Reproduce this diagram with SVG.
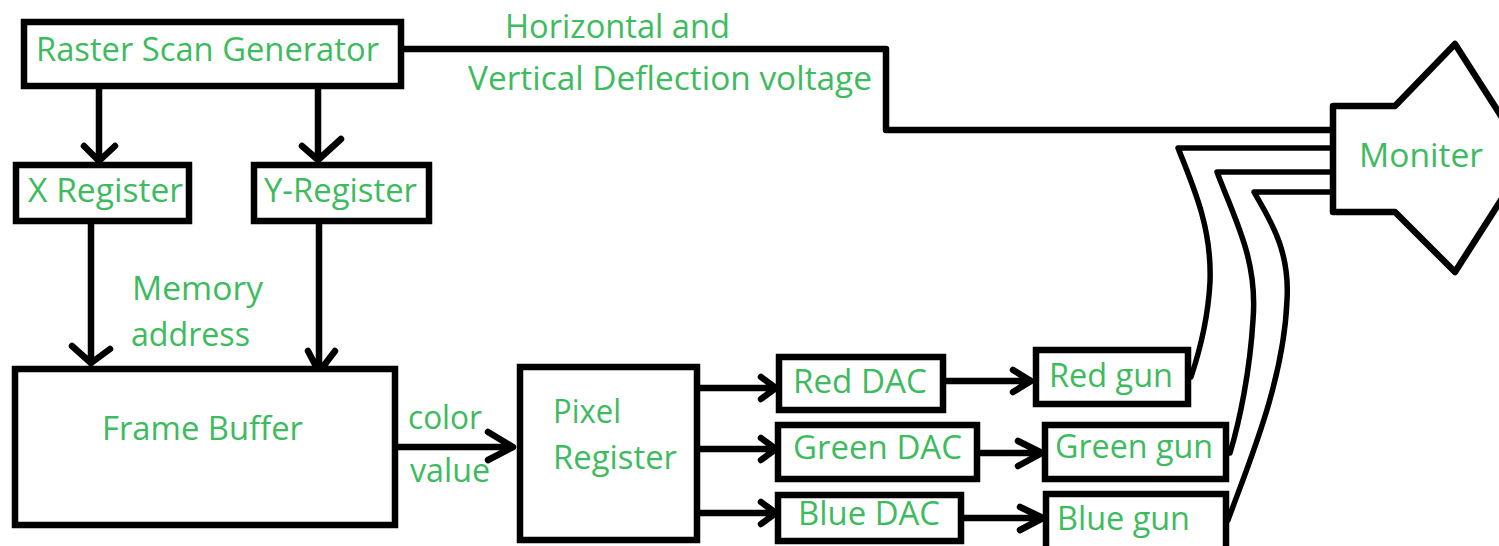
<svg xmlns="http://www.w3.org/2000/svg" width="1499" height="546" viewBox="0 0 1499 546">
<style>
.box{fill:#fff;stroke:#000;stroke-width:6.5}
.t{font-family:"Open Sans","Noto Sans",sans-serif;font-size:32px;fill:#3dbb5e}
.c{fill:none;stroke:#000;stroke-width:6.5;stroke-linecap:round;stroke-linejoin:round}
.w{fill:none;stroke:#000;stroke-width:5.5;stroke-linecap:round;stroke-linejoin:round}
</style>
<rect width="1499" height="546" fill="#fff"/>
<g id="connectors">
<path class="c" d="M404 49 H886 V130 H1333"/>
<path class="c" d="M99 89 V161 M84 146 L99 161 L115 146"/>
<path class="c" d="M318 89 V160 M302 146 L318 160 L341 139"/>
<path class="c" d="M91 224 V363 M72 346 L91 363 L110 349"/>
<path class="c" d="M319 224 V372 M308 351 L319 372 L335 351"/>
<path class="c" d="M398 447 H512 M488 432 L513 447 L488 460"/>
<path class="c" d="M700 388 H775 M761 377 L776 388 L761 399"/>
<path class="c" d="M700 449 H775 M761 438 L776 449 L761 460"/>
<path class="c" d="M700 513 H775 M761 502 L776 513 L761 524"/>
<path class="c" d="M946 381 H1030 M1013 370 L1031 381 L1013 392"/>
<path class="c" d="M980 453 H1040 M1018 441 L1042 453 L1018 466"/>
<path class="c" d="M964 518 H1042 M1020 507 L1043 518 L1020 530"/>
<path class="w" d="M1333 148 H1178 C1195 190 1212 230 1210 282 C1208 320 1200 350 1191 377"/>
<path class="w" d="M1333 172 H1217 C1235 220 1258 260 1253 320 C1250 370 1240 420 1230 453"/>
<path class="w" d="M1333 192 H1254 C1270 220 1290 250 1287 300 C1284 380 1250 460 1228 520"/>
<text class="t" x="505" y="38" textLength="225" lengthAdjust="spacingAndGlyphs">Horizontal and</text>
<text class="t" x="468" y="90" textLength="404" lengthAdjust="spacingAndGlyphs">Vertical Deflection voltage</text>
<text class="t" x="132" y="300" textLength="131" lengthAdjust="spacingAndGlyphs">Memory</text>
<text class="t" x="131" y="346" textLength="119" lengthAdjust="spacingAndGlyphs">address</text>
<text class="t" x="408" y="429" textLength="74" lengthAdjust="spacingAndGlyphs">color</text>
<text class="t" x="410" y="482" textLength="80" lengthAdjust="spacingAndGlyphs">value</text>
</g>
<g id="raster">
<rect class="box" x="24" y="22" width="377" height="64"/>
<text class="t" x="36" y="61" textLength="343" lengthAdjust="spacingAndGlyphs">Raster Scan Generator</text>
</g>
<g id="xreg">
<rect class="box" x="16" y="165" width="173" height="56"/>
<text class="t" x="28" y="202" textLength="155" lengthAdjust="spacingAndGlyphs">X Register</text>
</g>
<g id="yreg">
<rect class="box" x="254" y="165" width="175" height="56"/>
<text class="t" x="264" y="202" textLength="153" lengthAdjust="spacingAndGlyphs">Y-Register</text>
</g>
<g id="framebuffer">
<rect class="box" x="15" y="369" width="380" height="156"/>
<text class="t" x="102" y="440" textLength="201" lengthAdjust="spacingAndGlyphs">Frame Buffer</text>
</g>
<g id="pixelreg">
<rect class="box" x="520" y="367" width="177" height="173"/>
<text class="t" x="553" y="423" textLength="68" lengthAdjust="spacingAndGlyphs">Pixel</text>
<text class="t" x="553" y="469" textLength="124" lengthAdjust="spacingAndGlyphs">Register</text>
</g>
<g id="reddac">
<rect class="box" x="779" y="357" width="164" height="53"/>
<text class="t" x="793" y="393" textLength="134" lengthAdjust="spacingAndGlyphs">Red DAC</text>
</g>
<g id="greendac">
<rect class="box" x="778" y="425" width="199" height="54"/>
<text class="t" x="793" y="459" textLength="169" lengthAdjust="spacingAndGlyphs">Green DAC</text>
</g>
<g id="bluedac">
<rect class="box" x="778" y="495" width="183" height="46"/>
<text class="t" x="798" y="525" textLength="142" lengthAdjust="spacingAndGlyphs">Blue DAC</text>
</g>
<g id="redgun">
<rect class="box" x="1036" y="350" width="152" height="54"/>
<text class="t" x="1049" y="387" textLength="124" lengthAdjust="spacingAndGlyphs">Red gun</text>
</g>
<g id="greengun">
<rect class="box" x="1045" y="425" width="181" height="54"/>
<text class="t" x="1055" y="458" textLength="158" lengthAdjust="spacingAndGlyphs">Green gun</text>
</g>
<g id="bluegun">
<rect class="box" x="1046" y="494" width="180" height="62"/>
<text class="t" x="1057" y="530" textLength="133" lengthAdjust="spacingAndGlyphs">Blue gun</text>
</g>
<g id="monitor">
<path class="c" d="M1333 106 H1395 L1455 44 L1528 158 L1455 272 L1395 212 H1333 Z" style="fill:#fff"/>
<text class="t" x="1359" y="167" textLength="124" lengthAdjust="spacingAndGlyphs">Moniter</text>
</g>
</svg>
